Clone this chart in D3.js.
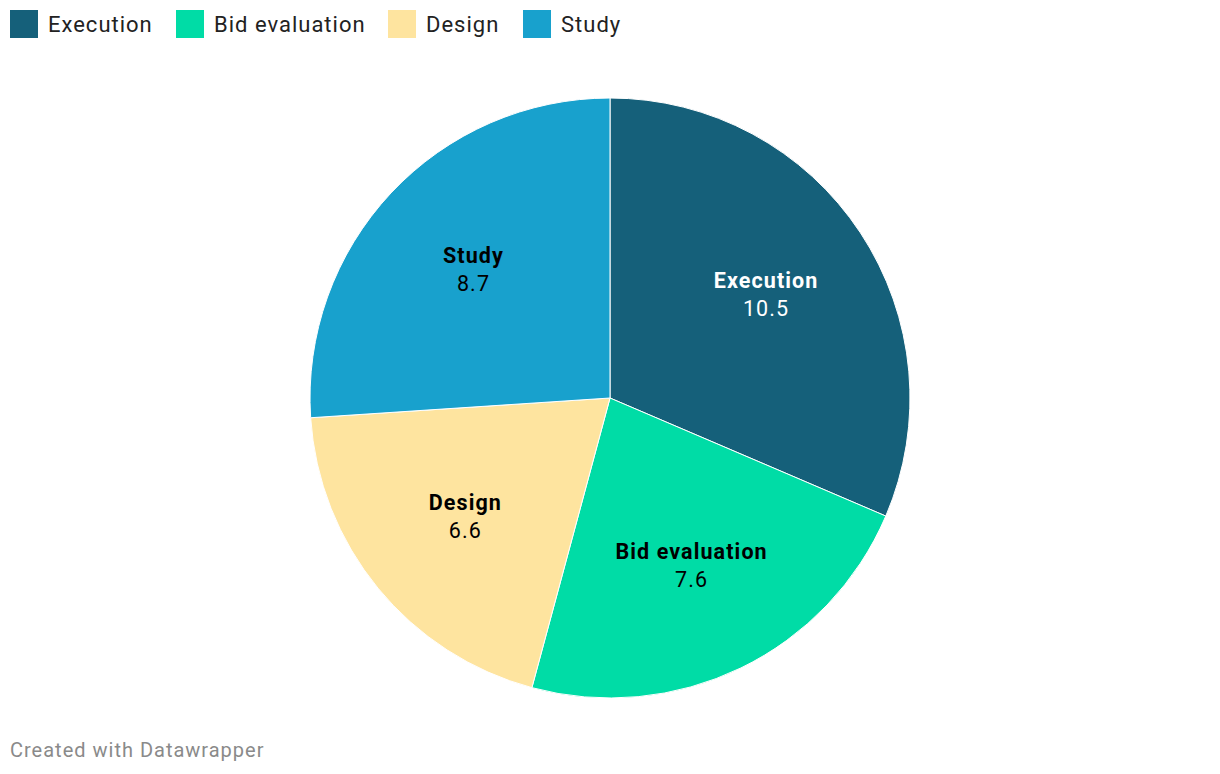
<!DOCTYPE html>
<html><head><meta charset="utf-8">
<script src="https://cdn.jsdelivr.net/npm/d3@7"></script>
<style>body{margin:0;background:#fff;font-family:Roboto,sans-serif}</style>
</head><body><svg id="c" width="1220" height="774"></svg>
<script>
const categories = ["Execution","Bid evaluation","Design","Study"];
const values = [10.5,7.6,6.6,8.7];
const colors = ["#15607a","#00dca6","#fee49f","#18a1cd"];
const labelColors = ["#ffffff","#000000","#000000","#000000"];

const svg = d3.select("#c");
const cx = 610, cy = 398, R = 300;
const data = categories.map((c,i)=>({name:c,value:values[i],i}));
const pie = d3.pie().value(d=>d.value).sort(null);
const arc = d3.arc().innerRadius(0).outerRadius(R);
const labelArc = d3.arc().innerRadius(187).outerRadius(187);
const g = svg.append("g").attr("transform",`translate(${cx},${cy})`);
const arcs = pie(data);
g.selectAll("path").data(arcs).join("path")
  .attr("d",arc).attr("fill",d=>colors[d.data.i])
  .attr("stroke","#fff").attr("stroke-width",1);
const lab = g.selectAll("g.l").data(arcs).join("g").attr("class","l")
  .attr("transform",d=>`translate(${labelArc.centroid(d)})`);
lab.append("text").attr("text-anchor","middle").attr("y",-7)
  .attr("font-weight","bold").attr("font-size",21.5).attr("letter-spacing",1.1)
  .attr("fill",d=>labelColors[d.data.i])
  .text(d=>d.data.name);
lab.append("text").attr("text-anchor","middle").attr("y",21)
  .attr("font-size",21.5).attr("letter-spacing",1.1).attr("fill",d=>labelColors[d.data.i])
  .text(d=>d3.format(".1f")(d.data.value));

// legend
const legX = [10,176,388,523];
const leg = svg.selectAll("g.leg").data(data).join("g").attr("class","leg")
  .attr("transform",(d,i)=>`translate(${legX[i]},10)`);
leg.append("rect").attr("width",28).attr("height",28).attr("fill",d=>colors[d.i]);
leg.append("text").attr("x",38).attr("y",22).attr("font-size",22).attr("letter-spacing",1)
  .attr("fill","#222").text(d=>d.name);

svg.append("text").attr("x",10).attr("y",757).attr("font-size",20).attr("letter-spacing",1)
  .attr("fill","#8a8a8a").text("Created with Datawrapper");
</script></body></html>
